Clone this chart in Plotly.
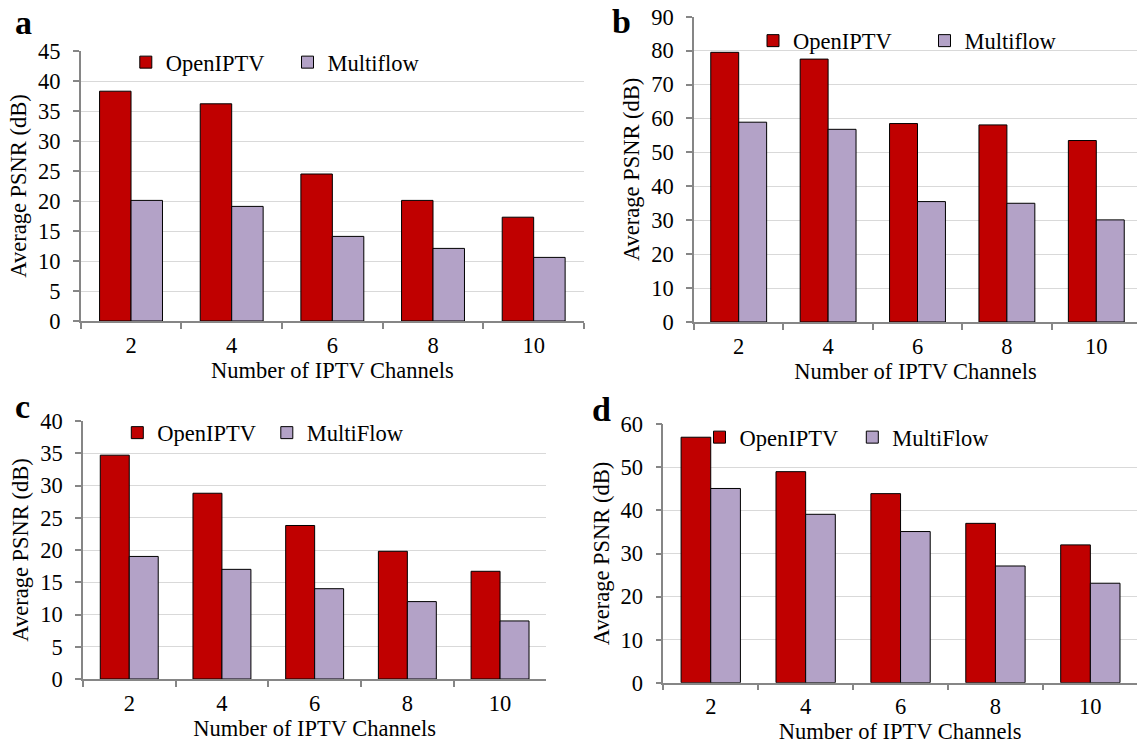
import plotly.graph_objects as go

# ---------------- data ----------------
channels = ["2", "4", "6", "8", "10"]

a_openiptv = [38.3, 36.2, 24.5, 20.1, 17.3]
a_multiflow = [20.1, 19.1, 14.1, 12.1, 10.6]

b_openiptv = [79.5, 77.5, 58.5, 58.1, 53.5]
b_multiflow = [58.9, 56.8, 35.5, 35.0, 30.1]

c_openiptv = [34.7, 28.8, 23.8, 19.8, 16.7]
c_multiflow = [19.0, 17.0, 14.0, 12.0, 9.0]

d_openiptv = [57.0, 49.0, 43.9, 37.0, 32.0]
d_multiflow = [45.1, 39.1, 35.1, 27.1, 23.1]

panel_labels = ["a", "b", "c", "d"]
second_names = ["Multiflow", "Multiflow", "MultiFlow", "MultiFlow"]
y_ranges = [[0, 45], [0, 90], [0, 40], [0, 60]]
y_dticks = [5, 10, 5, 10]

# ---------------- style ----------------
W, H = 1137, 746
FONT = "Liberation Serif"
RED = "#C00000"
PURPLE = "#B3A2C7"
AXIS = "#868686"
GRID = "#D9D9D9"
FS = 22.5

# plot-area boxes in pixels: (left, right, top, bottom), x range max
boxes = [
    (80.7, 584.0, 51.0, 321.0, 4.5),
    (694.0, 1137.0, 16.7, 322.0, -0.5 + (1137 - 694.0) / 89.4),
    (82.9, 546.4, 421.0, 679.0, 4.5),
    (663.3, 1137.0, 424.3, 682.7, -0.5 + (1137 - 663.3) / 94.9),
]
# legend: (first icon centre x, centre y, entry width)
legends = [
    (145.8, 62.5, 116.7),
    (773.0, 41.0, 126.5),
    (137.3, 433.0, 104.5),
    (719.5, 437.5, 107.8),
]
# panel letters: (left x, centre y)
letters = [(13, 22), (609.5, 21), (13, 406), (590, 409)]

data_sets = [
    (a_openiptv, a_multiflow),
    (b_openiptv, b_multiflow),
    (c_openiptv, c_multiflow),
    (d_openiptv, d_multiflow),
]

fig = go.Figure()
layout = dict(
    template="none",
    width=W, height=H,
    margin=dict(l=0, r=0, t=0, b=0, pad=0),
    paper_bgcolor="white", plot_bgcolor="white",
    font=dict(family=FONT, size=FS, color="black"),
    barmode="group", bargap=0.375, bargroupgap=0.0,
    annotations=[],
)

for i, (op, mf) in enumerate(data_sets):
    n = "" if i == 0 else str(i + 1)
    lg = "legend" if i == 0 else "legend" + str(i + 1)
    fig.add_trace(go.Bar(
        x=channels, y=op, name="OpenIPTV",
        marker=dict(color=RED, line=dict(color="black", width=1)),
        xaxis="x" + n, yaxis="y" + n, legend=lg,
    ))
    fig.add_trace(go.Bar(
        x=channels, y=mf, name=second_names[i],
        marker=dict(color=PURPLE, line=dict(color="black", width=1)),
        xaxis="x" + n, yaxis="y" + n, legend=lg,
    ))
    l, r, t, b, xmax = boxes[i]
    layout["xaxis" + n] = dict(
        domain=[l / W, r / W], anchor="y" + n, type="category",
        range=[-0.5, xmax], tickson="boundaries", automargin=False,
        ticks="outside", ticklen=6, tickcolor=AXIS, tickwidth=1.5,
        showline=True, linecolor=AXIS, linewidth=1.5,
        showgrid=False, zeroline=False, ticklabelstandoff=3,
        tickfont=dict(family=FONT, size=FS, color="black"),
        title=dict(text="Number of IPTV Channels", standoff=2,
                   font=dict(family=FONT, size=FS, color="black")),
        fixedrange=True,
    )
    layout["yaxis" + n] = dict(
        domain=[1 - b / H, 1 - t / H], anchor="x" + n,
        range=y_ranges[i], dtick=y_dticks[i], tick0=0, automargin=False,
        ticks="outside", ticklen=6, tickcolor=AXIS, tickwidth=1.5,
        showline=True, linecolor=AXIS, linewidth=1.5,
        showgrid=True, gridcolor=GRID, gridwidth=1.3, zeroline=False,
        ticklabelstandoff=8,
        tickfont=dict(family=FONT, size=FS, color="black"),
        title=dict(text="Average PSNR (dB)", standoff=5,
                   font=dict(family=FONT, size=FS, color="black")),
        fixedrange=True,
    )
    lx, ly, ew = legends[i]
    layout[lg] = dict(
        orientation="h", x=(lx - 20) / W, y=1 - ly / H,
        xanchor="left", yanchor="middle",
        bgcolor="rgba(0,0,0,0)", borderwidth=0,
        font=dict(family=FONT, size=FS, color="black"),
        entrywidth=ew, entrywidthmode="pixels", itemwidth=30,
        traceorder="normal",
    )
    px_, py_ = letters[i]
    layout["annotations"].append(dict(
        text="<b>" + panel_labels[i] + "</b>", x=px_ / W, y=1 - py_ / H,
        xref="paper", yref="paper", xanchor="left", yanchor="middle",
        showarrow=False, font=dict(family=FONT, size=34, color="black"),
    ))

fig.update_layout(**layout)
fig.write_html(
    "out.html",
    config={"displayModeBar": False},
    post_script="document.body.style.margin='0px';",
)
